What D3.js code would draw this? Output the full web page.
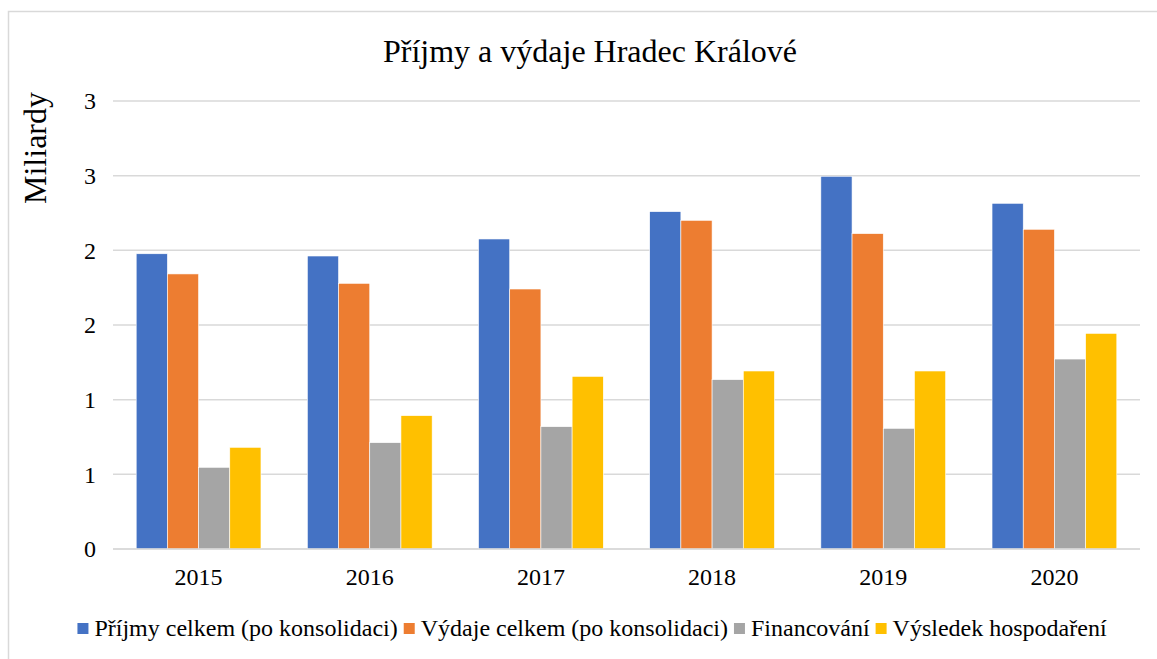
<!DOCTYPE html>
<html>
<head>
<meta charset="utf-8">
<script src="https://cdn.jsdelivr.net/npm/d3@7"></script>
<style>
  body { margin: 0; background: #fff; }
  svg text { font-family: "Liberation Serif", "Times New Roman", serif !important; fill: #000; }
</style>
</head>
<body>
<div id="chart"></div>
<script>
// data (billions CZK)
const years = ['2015', '2016', '2017', '2018', '2019', '2020']
const seriesNames = ['Příjmy celkem (po konsolidaci)', 'Výdaje celkem (po konsolidaci)', 'Financování', 'Výsledek hospodaření']
const prijmy = [1.977, 1.962, 2.076, 2.259, 2.496, 2.315]
const vydaje = [1.842, 1.779, 1.741, 2.201, 2.112, 2.141]
const financovani = [0.547, 0.712, 0.819, 1.134, 0.808, 1.272]
const vysledek = [0.681, 0.893, 1.156, 1.192, 1.192, 1.444]
const yTicks = [0, 0.5, 1, 1.5, 2, 2.5, 3]
const yTickLabels = ['0', '1', '1', '2', '2', '3', '3']
const colors = ['#4472C4', '#ED7D31', '#A5A5A5', '#FFC000']

const svgWidth = 1157
const svgHeight = 659
const font = '"Liberation Serif", "Times New Roman", serif'

const margin = { left: 113, right: 17, top: 101, bottom: 110 }
const width = svgWidth - margin.left - margin.right
const height = svgHeight - margin.top - margin.bottom

const svg = d3.select('#chart')
    .append('svg')
    .attr('width', svgWidth)
    .attr('height', svgHeight)

// outer frame
svg.append('rect')
    .attr('x', 8.5).attr('y', 11.5)
    .attr('width', 1160).attr('height', 670)
    .attr('fill', 'none')
    .attr('stroke', '#d9d9d9')
    .attr('stroke-width', 1.5)

// title
svg.append('text')
    .attr('x', 590)
    .attr('y', 62)
    .attr('text-anchor', 'middle')
    .attr('font-size', 32)
    .text('Příjmy a výdaje Hradec Králové')

const g = svg.append('g')
    .attr('transform', `translate(${margin.left},${margin.top})`)

////////// scales //////////
const x = d3.scaleBand()
    .domain(years)
    .range([0, width])
    .paddingInner(0.271)
    .paddingOuter(0.1355)

const x1 = d3.scaleBand()
    .domain(seriesNames)
    .range([0, x.bandwidth()])

const y = d3.scaleLinear()
    .domain([0, 3])
    .range([height, 0])

////////// gridlines + axes //////////
g.append('g')
    .selectAll('line')
    .data(yTicks)
    .join('line')
    .attr('x1', 0).attr('x2', width)
    .attr('y1', d => y(d)).attr('y2', d => y(d))
    .attr('stroke', '#d9d9d9')
    .attr('stroke-width', 1.5)

const yAxis = d3.axisLeft(y)
    .tickValues(yTicks)
    .tickFormat((d, i) => yTickLabels[i])
    .tickSize(0)
    .tickPadding(17)

g.append('g')
    .call(yAxis)
    .attr('font-family', font)
    .call(a => a.select('.domain').remove())
    .selectAll('text')
    .attr('font-size', 24)
    .attr('fill', '#000')

svg.append('text')
    .attr('transform', 'translate(46,148) rotate(-90)')
    .attr('text-anchor', 'middle')
    .attr('font-size', 32)
    .text('Miliardy')

////////// bars //////////
const rows = years.map((yr, i) => ({
    year: yr,
    values: [prijmy[i], vydaje[i], financovani[i], vysledek[i]]
}))

g.append('g')
    .selectAll('g')
    .data(rows)
    .join('g')
    .attr('transform', d => `translate(${x(d.year)},0)`)
    .selectAll('rect')
    .data(d => d.values.map((v, k) => ({ name: seriesNames[k], value: v, k: k })))
    .join('rect')
    .attr('x', d => x1(d.name))
    .attr('width', x1.bandwidth())
    .attr('y', d => y(d.value))
    .attr('height', d => y(0) - y(d.value))
    .attr('fill', d => colors[d.k])
    .attr('stroke', '#fff')
    .attr('stroke-width', 0.6)

// baseline over bars
g.append('line')
    .attr('x1', 0).attr('x2', width)
    .attr('y1', y(0)).attr('y2', y(0))
    .attr('stroke', '#d9d9d9')
    .attr('stroke-width', 1.5)

const xAxis = d3.axisBottom(x).tickSize(0).tickPadding(19)
g.append('g')
    .attr('transform', `translate(0,${height})`)
    .call(xAxis)
    .attr('font-family', font)
    .call(a => a.select('.domain').remove())
    .selectAll('text')
    .attr('font-size', 24)
    .attr('fill', '#000')

////////// legend //////////
const legend = svg.append('g').attr('font-family', font)
const items = legend.selectAll('g')
    .data(seriesNames)
    .join('g')

items.append('rect')
    .attr('width', 11).attr('height', 11)
    .attr('y', -13)
    .attr('fill', (d, i) => colors[i])

items.append('text')
    .attr('x', 17)
    .attr('font-size', 24)
    .text(d => d)

let offset = 0
const itemGap = 6
items.each(function () {
    const el = d3.select(this)
    el.attr('transform', `translate(${offset},0)`)
    offset += 17 + el.select('text').node().getComputedTextLength() + itemGap
})
offset -= itemGap
legend.attr('transform', `translate(${592 - offset / 2},636)`)
</script>
</body>
</html>
